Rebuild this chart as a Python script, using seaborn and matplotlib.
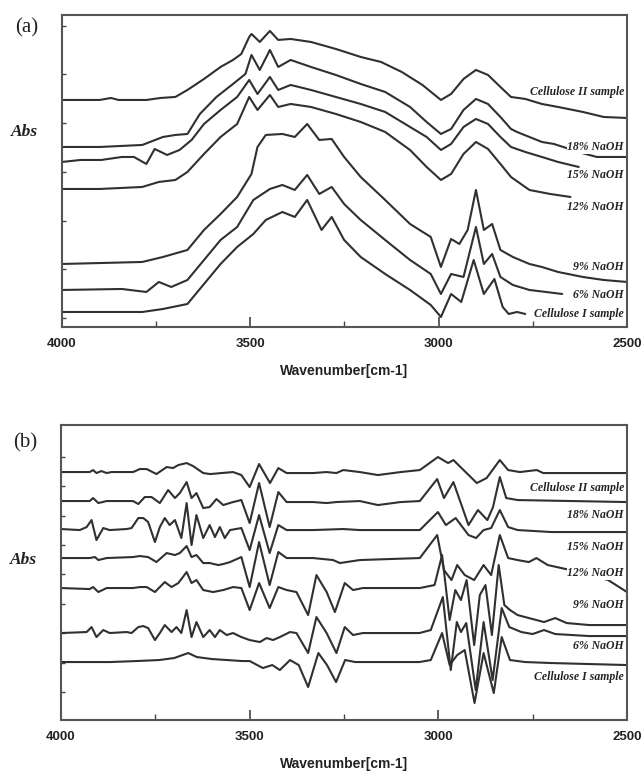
import pandas as pd
import seaborn as sns
import matplotlib.pyplot as plt
from matplotlib.ticker import FixedLocator

# trace names, top to bottom
samples = ["Cellulose II sample", "18% NaOH", "15% NaOH", "12% NaOH",
           "9% NaOH", "6% NaOH", "Cellulose I sample"]

# ---- panel (a): stacked absorbance spectra, (wavenumber, abs)
a_cell2 = [(4000, 2.27), (3900, 2.27), (3870, 2.29), (3850, 2.27), (3776, 2.27), (3738, 2.29),
           (3699, 2.30), (3667, 2.37), (3623, 2.48), (3579, 2.60), (3546, 2.67), (3524, 2.73),
           (3503, 2.90), (3497, 2.93), (3475, 2.85), (3448, 2.96), (3426, 2.87), (3393, 2.88),
           (3339, 2.85), (3273, 2.78), (3207, 2.70), (3153, 2.65), (3098, 2.55), (3043, 2.42),
           (2994, 2.27), (2967, 2.33), (2934, 2.48), (2901, 2.57), (2869, 2.52), (2836, 2.40),
           (2808, 2.30), (2770, 2.28), (2726, 2.23), (2683, 2.20), (2617, 2.15), (2562, 2.10),
           (2500, 2.09)]
a_18 = [(4000, 1.80), (3900, 1.80), (3787, 1.82), (3732, 1.90), (3699, 1.92), (3667, 1.93),
        (3634, 2.13), (3590, 2.30), (3546, 2.43), (3513, 2.53), (3497, 2.72), (3475, 2.57),
        (3448, 2.77), (3426, 2.60), (3393, 2.67), (3339, 2.60), (3273, 2.52), (3207, 2.43),
        (3142, 2.35), (3076, 2.20), (3032, 2.05), (2994, 1.93), (2967, 1.98), (2934, 2.17),
        (2901, 2.28), (2869, 2.23), (2836, 2.10), (2808, 1.98), (2792, 1.95), (2759, 1.90),
        (2726, 1.85), (2694, 1.83), (2620, 1.74), (2580, 1.70), (2500, 1.70)]
a_15 = [(4000, 1.65), (3951, 1.67), (3896, 1.67), (3841, 1.70), (3809, 1.70), (3776, 1.63),
        (3754, 1.78), (3721, 1.72), (3688, 1.77), (3656, 1.87), (3623, 2.03), (3579, 2.17),
        (3535, 2.30), (3503, 2.47), (3481, 2.33), (3448, 2.50), (3426, 2.37), (3393, 2.42),
        (3339, 2.37), (3273, 2.30), (3207, 2.23), (3142, 2.15), (3076, 2.00), (3032, 1.90),
        (2994, 1.77), (2967, 1.83), (2934, 2.00), (2901, 2.08), (2869, 2.03), (2836, 1.90),
        (2808, 1.80), (2770, 1.75), (2726, 1.70), (2683, 1.65), (2628, 1.60)]
a_12 = [(4000, 1.38), (3900, 1.38), (3787, 1.40), (3743, 1.45), (3699, 1.47), (3667, 1.55),
        (3623, 1.73), (3579, 1.90), (3535, 2.03), (3503, 2.30), (3481, 2.17), (3448, 2.32),
        (3426, 2.20), (3393, 2.23), (3339, 2.20), (3273, 2.13), (3207, 2.05), (3142, 1.95),
        (3076, 1.77), (3032, 1.60), (2994, 1.47), (2967, 1.53), (2934, 1.73), (2901, 1.85),
        (2869, 1.78), (2836, 1.63), (2808, 1.50), (2759, 1.37), (2704, 1.33), (2650, 1.30)]
a_9 = [(4000, 0.63), (3787, 0.65), (3732, 0.70), (3667, 0.77), (3623, 0.97), (3579, 1.13),
       (3535, 1.30), (3497, 1.53), (3481, 1.80), (3459, 1.92), (3415, 1.93), (3382, 1.90),
       (3349, 2.03), (3317, 1.87), (3284, 1.88), (3251, 1.70), (3207, 1.50), (3142, 1.27),
       (3076, 1.03), (3021, 0.90), (2994, 0.60), (2967, 0.88), (2945, 0.83), (2923, 0.97),
       (2901, 1.37), (2880, 0.97), (2858, 1.03), (2836, 0.77), (2803, 0.70), (2759, 0.63),
       (2726, 0.60), (2683, 0.55), (2617, 0.50), (2562, 0.47), (2500, 0.45)]
a_6 = [(4000, 0.37), (3841, 0.38), (3776, 0.35), (3743, 0.45), (3710, 0.40), (3667, 0.47),
       (3623, 0.67), (3579, 0.87), (3535, 1.00), (3492, 1.27), (3448, 1.38), (3415, 1.42),
       (3382, 1.37), (3349, 1.52), (3317, 1.33), (3284, 1.40), (3251, 1.23), (3207, 1.07),
       (3142, 0.87), (3076, 0.67), (3021, 0.53), (2994, 0.33), (2967, 0.53), (2934, 0.50),
       (2901, 1.00), (2880, 0.63), (2858, 0.73), (2836, 0.50), (2803, 0.42), (2759, 0.37),
       (2715, 0.35), (2672, 0.33)]
a_cell1 = [(4000, 0.15), (3787, 0.15), (3732, 0.18), (3667, 0.23), (3623, 0.43), (3579, 0.63),
           (3535, 0.80), (3492, 0.93), (3459, 1.07), (3415, 1.15), (3382, 1.10), (3349, 1.27),
           (3311, 0.97), (3284, 1.10), (3251, 0.87), (3207, 0.70), (3142, 0.53), (3076, 0.37),
           (3021, 0.22), (2994, 0.10), (2967, 0.33), (2940, 0.25), (2907, 0.67), (2880, 0.33),
           (2852, 0.48), (2830, 0.20), (2814, 0.13), (2792, 0.15), (2770, 0.13)]

# ---- panel (b): second-derivative spectra
b_cell2 = [(4000, 2.48), (3924, 2.48), (3915, 2.50), (3906, 2.47), (3893, 2.49), (3879, 2.47),
           (3866, 2.48), (3809, 2.48), (3791, 2.51), (3773, 2.51), (3747, 2.46), (3720, 2.53),
           (3703, 2.52), (3689, 2.55), (3667, 2.57), (3650, 2.54), (3623, 2.47), (3605, 2.46),
           (3544, 2.48), (3522, 2.45), (3500, 2.33), (3475, 2.56), (3446, 2.37), (3424, 2.52),
           (3402, 2.47), (3332, 2.47), (3296, 2.48), (3270, 2.47), (3252, 2.50), (3208, 2.48),
           (3160, 2.45), (3100, 2.48), (3049, 2.50), (3001, 2.63), (2974, 2.57), (2960, 2.60),
           (2898, 2.37), (2872, 2.42), (2837, 2.60), (2815, 2.50), (2784, 2.48), (2739, 2.50),
           (2722, 2.47), (2500, 2.47)]
b_18 = [(4000, 2.19), (3924, 2.19), (3915, 2.22), (3901, 2.17), (3879, 2.19), (3809, 2.19),
        (3795, 2.16), (3778, 2.23), (3760, 2.23), (3738, 2.17), (3716, 2.30), (3698, 2.22),
        (3685, 2.27), (3667, 2.38), (3654, 2.22), (3641, 2.27), (3623, 2.12), (3606, 2.13),
        (3588, 2.21), (3570, 2.15), (3544, 2.18), (3522, 2.20), (3500, 1.97), (3475, 2.37),
        (3447, 1.93), (3424, 2.28), (3402, 2.18), (3332, 2.18), (3296, 2.17), (3270, 2.18),
        (3208, 2.19), (3160, 2.15), (3100, 2.18), (3049, 2.19), (3003, 2.41), (2985, 2.22),
        (2960, 2.38), (2920, 1.95), (2895, 2.10), (2870, 2.00), (2855, 2.13), (2837, 2.43),
        (2820, 2.22), (2790, 2.20), (2500, 2.18)]
b_15 = [(4000, 1.91), (3950, 1.90), (3932, 1.93), (3919, 2.00), (3906, 1.80), (3888, 1.92),
        (3871, 1.90), (3826, 1.91), (3813, 1.92), (3795, 2.02), (3782, 2.02), (3769, 1.98),
        (3751, 1.78), (3738, 1.93), (3725, 2.02), (3712, 1.95), (3698, 2.00), (3681, 1.82),
        (3667, 2.17), (3654, 1.75), (3641, 2.05), (3623, 1.82), (3606, 1.95), (3592, 1.83),
        (3579, 1.93), (3566, 1.82), (3552, 1.90), (3522, 1.92), (3500, 1.70), (3475, 2.05),
        (3447, 1.67), (3424, 1.95), (3402, 1.90), (3332, 1.90), (3252, 1.91), (3208, 1.90),
        (3049, 1.90), (3001, 2.08), (2980, 1.95), (2954, 2.02), (2920, 1.85), (2900, 1.82),
        (2880, 1.90), (2860, 1.92), (2837, 2.10), (2815, 1.93), (2790, 1.90), (2700, 1.88),
        (2500, 1.88)]
b_12 = [(4000, 1.62), (3924, 1.62), (3910, 1.63), (3901, 1.60), (3879, 1.62), (3809, 1.63),
        (3791, 1.64), (3769, 1.63), (3747, 1.58), (3720, 1.67), (3698, 1.65), (3685, 1.67),
        (3667, 1.74), (3654, 1.63), (3641, 1.65), (3623, 1.57), (3606, 1.57), (3583, 1.55),
        (3570, 1.56), (3552, 1.58), (3522, 1.63), (3500, 1.33), (3475, 1.78), (3447, 1.35),
        (3424, 1.68), (3402, 1.62), (3332, 1.62), (3279, 1.60), (3261, 1.57), (3208, 1.60),
        (3049, 1.62), (3003, 1.85), (2985, 1.50), (2965, 1.40), (2950, 1.55), (2930, 1.45),
        (2905, 1.40), (2880, 1.55), (2860, 1.45), (2837, 1.85), (2815, 1.62), (2790, 1.60),
        (2760, 1.58), (2740, 1.62), (2710, 1.55), (2650, 1.50), (2600, 1.45), (2550, 1.40),
        (2500, 1.28)]
b_9 = [(4000, 1.32), (3924, 1.31), (3915, 1.33), (3901, 1.28), (3879, 1.32), (3809, 1.32),
       (3791, 1.33), (3773, 1.33), (3751, 1.28), (3725, 1.38), (3707, 1.33), (3689, 1.37),
       (3667, 1.48), (3654, 1.37), (3641, 1.40), (3623, 1.30), (3597, 1.28), (3570, 1.30),
       (3544, 1.33), (3522, 1.32), (3500, 1.10), (3475, 1.37), (3447, 1.12), (3424, 1.33),
       (3402, 1.30), (3376, 1.28), (3345, 1.05), (3323, 1.45), (3296, 1.28), (3274, 1.08),
       (3248, 1.37), (3226, 1.30), (3200, 1.32), (3049, 1.32), (3010, 1.35), (2990, 1.65),
       (2970, 1.00), (2955, 1.30), (2940, 1.20), (2925, 1.40), (2905, 0.75), (2890, 1.25),
       (2875, 1.35), (2858, 0.85), (2840, 1.55), (2825, 1.15), (2810, 1.10), (2790, 1.05),
       (2760, 1.02), (2720, 0.98), (2690, 1.02), (2660, 0.97), (2600, 0.95), (2500, 0.95)]
b_6 = [(4000, 0.87), (3932, 0.88), (3919, 0.93), (3906, 0.83), (3888, 0.90), (3871, 0.87),
       (3826, 0.88), (3813, 0.87), (3795, 0.93), (3782, 0.94), (3769, 0.92), (3751, 0.80),
       (3738, 0.87), (3725, 0.95), (3707, 0.88), (3694, 0.93), (3681, 0.87), (3667, 1.10),
       (3654, 0.83), (3641, 0.98), (3623, 0.83), (3606, 0.90), (3592, 0.83), (3579, 0.90),
       (3561, 0.85), (3544, 0.87), (3522, 0.83), (3500, 0.80), (3473, 0.78), (3455, 0.82),
       (3438, 0.80), (3420, 0.83), (3393, 0.88), (3376, 0.87), (3345, 0.67), (3323, 1.03),
       (3296, 0.87), (3270, 0.67), (3248, 0.93), (3226, 0.85), (3200, 0.87), (3050, 0.87),
       (3020, 0.90), (2988, 1.23), (2967, 0.50), (2951, 0.98), (2940, 0.88), (2926, 0.97),
       (2901, 0.30), (2880, 0.98), (2856, 0.40), (2832, 1.12), (2812, 0.93), (2780, 0.88),
       (2750, 0.86), (2720, 0.90), (2690, 0.86), (2600, 0.84), (2500, 0.84)]
b_cell1 = [(4000, 0.58), (3870, 0.58), (3800, 0.59), (3740, 0.60), (3700, 0.62), (3663, 0.67),
           (3640, 0.63), (3600, 0.61), (3560, 0.60), (3520, 0.59), (3500, 0.59), (3480, 0.55),
           (3465, 0.52), (3440, 0.55), (3420, 0.50), (3393, 0.60), (3370, 0.55), (3345, 0.33),
           (3318, 0.67), (3295, 0.55), (3271, 0.38), (3247, 0.60), (3220, 0.58), (3050, 0.58),
           (3020, 0.60), (2990, 0.87), (2970, 0.55), (2950, 0.65), (2930, 0.70), (2904, 0.17),
           (2880, 0.67), (2853, 0.27), (2832, 0.83), (2810, 0.60), (2770, 0.58), (2700, 0.57),
           (2500, 0.55)]

# label anchor heights (right-aligned at ~2508 cm-1)
a_label_y = [2.35, 1.80, 1.52, 1.20, 0.60, 0.32, 0.13]
b_label_y = [2.32, 2.05, 1.73, 1.47, 1.15, 0.74, 0.43]

a_traces = [a_cell2, a_18, a_15, a_12, a_9, a_6, a_cell1]
b_traces = [b_cell2, b_18, b_15, b_12, b_9, b_6, b_cell1]


def to_frame(traces):
    rows = []
    for name, pts in zip(samples, traces):
        for wn, ab in pts:
            rows.append({"wn": wn, "abs": ab, "sample": name})
    return pd.DataFrame(rows)


sns.set_theme(style="white")
plt.rcParams["font.family"] = ["Liberation Sans", "DejaVu Sans"]

fig = plt.figure(figsize=(6.42, 7.71), dpi=100)
ax_a = fig.add_axes([0.0966, 0.5759, 0.88, 0.4047])
ax_b = fig.add_axes([0.095, 0.0661, 0.8816, 0.3826])

line_col = "#303030"
serif = ["Liberation Serif", "DejaVu Serif"]

panels = [
    (ax_a, a_traces, a_label_y, (0.0, 3.12), [0.09 + 0.487 * k for k in range(7)], "(a)", 0.625, 0.96),
    (ax_b, b_traces, b_label_y, (0.0, 2.95), [0.28 + 0.294 * k for k in range(9)], "(b)", 0.542, 0.939),
]

for ax, traces, label_y, ylim, yt, tag, abs_y, tag_y in panels:
    df = to_frame(traces)
    sns.lineplot(data=df, x="wn", y="abs", units="sample", estimator=None,
                 color=line_col, linewidth=1.5, sort=False, ax=ax, legend=False)
    ax.set_xlim(4000, 2500)
    ax.set_ylim(*ylim)
    for name, yl in zip(samples, label_y):
        ax.text(2508, yl, name, ha="right", va="center", fontsize=8.5,
                style="italic", fontweight="bold", family=serif, color="#222222",
                bbox=dict(facecolor="white", edgecolor="none", pad=0.6), zorder=5)

    ax.set_xticks([4000, 3500, 3000, 2500])
    ax.set_xticklabels(["4000", "3500", "3000", "2500"], fontsize=9.5, fontweight="bold")
    ax.xaxis.set_minor_locator(FixedLocator([3750, 3250, 2750]))
    ax.set_yticks(yt)
    ax.set_yticklabels([])
    ax.tick_params(axis="x", which="major", direction="in", length=7, width=1.2,
                   color="#444444", pad=8, bottom=True, labelcolor="#222222")
    ax.tick_params(axis="x", which="minor", direction="in", length=4, width=1.0,
                   color="#444444", bottom=True)
    ax.tick_params(axis="y", direction="in", length=3, width=1.0, color="#444444", left=True)
    ax.set_xlabel("Wavenumber[cm-1]", fontsize=10, fontweight="bold", labelpad=10,
                  color="#222222")
    ax.set_ylabel("")
    for sp in ax.spines.values():
        sp.set_color("#555555")
        sp.set_linewidth(1.5)

    ax.text(-0.066, abs_y, "Abs", transform=ax.transAxes,
            ha="center", va="center", fontsize=12.5, style="italic", fontweight="bold",
            family=serif, color="#222222")
    ax.text(-0.063, tag_y, tag, transform=ax.transAxes,
            ha="center", va="center", fontsize=15, family=serif, color="#222222")

fig.savefig("out.png", dpi=100)
